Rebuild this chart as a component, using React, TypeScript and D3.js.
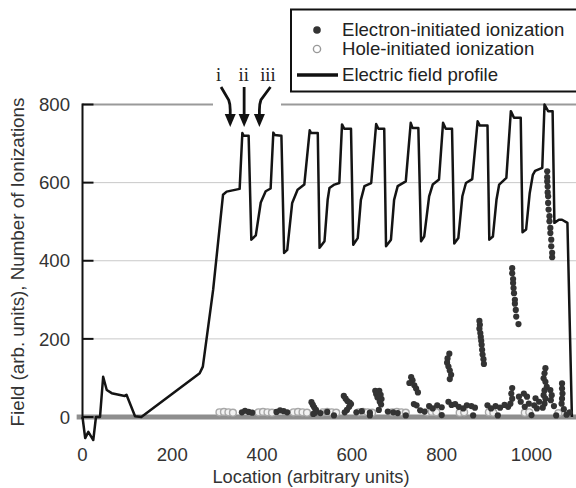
import React from "react";
import * as d3 from "d3";

const WIDTH = 576;
const HEIGHT = 488;

const yTicks = [0, 200, 400, 600, 800];
const xTicks = [0, 200, 400, 600, 800, 1000];

// Electric field profile: [location, field]
const fieldProfile: [number, number][] = [
  [0, 0], [6, -54], [13, -38], [24, -59], [30, 0], [39, 0], [46, 103], [54, 69], [65, 61],
  [94, 54], [98, 57], [117, 2], [131, 0], [261, 112], [268, 129], [291, 326], [313, 569],
  [321, 577], [350, 584],
  [356, 727], [359, 720], [370, 720], [376, 454], [386, 465], [397, 549], [408, 578], [419, 585],
  [425, 728], [428, 722], [443, 720], [449, 420], [456, 428], [467, 548], [479, 582], [494, 595],
  [506, 734], [509, 727], [524, 727], [528, 433], [539, 450], [546, 556], [550, 586], [561, 595], [572, 599],
  [578, 749], [583, 738], [598, 738], [603, 441], [613, 458], [620, 556], [628, 591], [643, 599],
  [654, 750], [659, 738], [672, 738], [676, 437], [687, 454], [694, 556], [702, 591], [720, 603],
  [731, 753], [735, 740], [748, 740], [754, 450], [761, 462], [772, 565], [780, 595], [794, 608],
  [803, 753], [809, 738], [823, 738], [828, 444], [837, 458], [846, 565], [854, 599], [868, 609],
  [880, 757], [885, 746], [902, 746], [906, 454], [914, 462], [922, 556], [928, 595], [944, 612],
  [954, 783], [961, 766], [976, 766], [980, 473], [988, 480], [996, 573], [1003, 620], [1008, 630], [1024, 638],
  [1029, 800], [1037, 783], [1047, 783], [1051, 497], [1061, 505], [1068, 505], [1080, 497], [1090, 0],
];

// Electron-initiated ionization counts: [location, count]
const electronIonizations: [number, number][] = [
  [355, 12], [362, 16], [370, 13], [378, 11], [432, 13], [440, 17], [448, 15], [456, 12],
  [530, 10], [545, 13], [610, 12], [622, 15], [640, 11], [680, 14], [692, 12], [702, 10], [752, 17], [762, 14],
  [510, 38], [513, 31], [516, 25], [520, 18], [518, 11], [514, 8],
  [582, 54], [586, 47], [590, 41], [595, 37], [598, 33], [594, 26], [589, 18], [584, 12],
  [652, 67], [661, 67], [654, 59], [664, 57], [657, 50], [666, 46], [662, 39], [665, 32], [660, 18],
  [732, 102], [735, 94], [728, 87], [739, 81], [743, 73], [747, 63], [738, 33], [744, 30],
  [817, 162], [813, 150], [812, 139], [815, 129], [818, 119], [821, 108], [818, 97], [815, 39], [822, 31],
  [884, 246], [885, 236], [884, 226], [886, 215], [887, 205], [888, 195], [889, 185], [890, 172],
  [891, 160], [893, 148], [894, 136],
  [957, 381], [957, 368], [959, 353], [959, 343], [960, 330], [961, 317], [963, 300], [963, 290],
  [965, 274], [966, 257], [971, 238],
  [1035, 629], [1035, 614], [1035, 603], [1036, 590], [1036, 575], [1037, 565], [1037, 548], [1038, 531],
  [1040, 514], [1040, 501], [1042, 484], [1042, 471], [1044, 454], [1044, 437], [1046, 420], [1046, 409],
  [772, 28], [780, 22], [790, 30], [800, 25], [830, 33], [838, 26], [848, 22], [856, 30], [866, 28],
  [874, 24], [902, 30], [910, 22], [920, 28], [930, 24], [940, 31], [948, 26],
  [1031, 125], [1029, 112], [1027, 99], [1031, 90], [1034, 77], [1029, 68], [1027, 56], [1031, 47],
  [1029, 34], [1025, 24],
  [1068, 86], [1068, 73], [1069, 60], [1068, 47], [1067, 34], [1072, 20],
  [957, 74], [955, 60], [957, 47], [953, 34],
  [983, 60], [990, 52], [972, 52], [976, 39], [994, 34], [985, 26],
  [1009, 48], [1017, 39], [1006, 30], [1012, 22],
  [1042, 69], [1045, 56], [1043, 43], [1050, 28],
  [560, 4], [640, 4], [720, 4], [800, 5], [870, 4], [925, 4], [1000, 5], [1055, 4], [1078, 6], [1085, 12],
];

// Hole-initiated ionization counts: [location, count]
const holeIonizations: [number, number][] = [
  [305, 12], [315, 13], [325, 12], [335, 11], [392, 12], [402, 13], [412, 12], [422, 11],
  [470, 12], [480, 13], [490, 12], [500, 11], [535, 12], [545, 13], [555, 12], [565, 11],
  [615, 12], [625, 13], [635, 12], [645, 11], [690, 12], [700, 13], [710, 12], [720, 11],
  [768, 12], [778, 13], [788, 12], [840, 11], [850, 12], [905, 12], [915, 11], [985, 11],
  [995, 12], [1060, 10],
];

const annotations = [
  { label: "i", labelAt: 303, tipAt: 329 },
  { label: "ii", labelAt: 359, tipAt: 360 },
  { label: "iii", labelAt: 413, tipAt: 394 },
];

const legendItems = [
  { label: "Electron-initiated ionization", kind: "electron" },
  { label: "Hole-initiated ionization", kind: "hole" },
  { label: "Electric field profile", kind: "field" },
];

const SANS = "'Liberation Sans', Arial, sans-serif";
const SERIF = "'Liberation Serif', 'Times New Roman', serif";
const FONT_SIZE = 18.6;

export default function App() {
  const x = d3.scaleLinear().domain([0, 1100]).range([82.5, 576.4]);
  const y = d3.scaleLinear().domain([0, 800]).range([417, 104.5]);
  const line = d3
    .line<[number, number]>()
    .x((d) => x(d[0]))
    .y((d) => y(d[1]));

  const axisX = x(0);
  const top = y(800);

  return (
    <svg width={WIDTH} height={HEIGHT} style={{ display: "block", position: "absolute", left: 0, top: 0 }}>
      <rect width={WIDTH} height={HEIGHT} fill="#fff" />

      {/* horizontal grid */}
      {yTicks
        .filter((t) => t > 0 && t < 800)
        .map((t) => (
          <line key={t} x1={axisX} x2={WIDTH} y1={y(t)} y2={y(t)} stroke="#c9c9c9" strokeWidth={1} />
        ))}
      <line x1={axisX} x2={WIDTH} y1={top} y2={top} stroke="#9a9a9a" strokeWidth={2} />

      {/* zero baseline */}
      <line x1={x(-13)} x2={WIDTH} y1={y(0)} y2={y(0)} stroke="#8e8e8e" strokeWidth={5} />

      {/* hole-initiated ionizations */}
      {holeIonizations.map((d, i) => (
        <circle key={"h" + i} cx={x(d[0])} cy={y(d[1])} r={3.4} fill="#f2f2f2" stroke="#a8a8a8" strokeWidth={1.4} />
      ))}

      {/* electric field */}
      <path d={line(fieldProfile) || ""} fill="none" stroke="#141414" strokeWidth={2.5} strokeLinejoin="round" />

      {/* electron-initiated ionizations */}
      {electronIonizations.map((d, i) => (
        <circle key={"e" + i} cx={x(d[0])} cy={y(d[1])} r={3.1} fill="#333" />
      ))}

      {/* y axis */}
      <line x1={axisX} x2={axisX} y1={top - 1} y2={y(0) + 2} stroke="#111" strokeWidth={2} />
      {yTicks.map((t) => (
        <g key={"yt" + t}>
          <line x1={axisX} x2={axisX + 11} y1={y(t)} y2={y(t)} stroke="#111" strokeWidth={2} />
          <text x={70} y={y(t)} dy="0.36em" textAnchor="end" fontFamily={SANS} fontSize={FONT_SIZE} fill="#333">
            {t}
          </text>
        </g>
      ))}
      {xTicks.map((t) => (
        <text key={"xt" + t} x={x(t)} y={461} textAnchor="middle" fontFamily={SANS} fontSize={FONT_SIZE} fill="#333">
          {t}
        </text>
      ))}
      <text x={311} y={483} textAnchor="middle" fontFamily={SANS} fontSize={18.3} fill="#333">
        Location (arbitrary units)
      </text>
      <text
        transform={`translate(24, 262) rotate(-90)`}
        textAnchor="middle"
        fontFamily={SANS}
        fontSize={18.8}
        fill="#333"
      >
        Field (arb. units), Number of Ionizations
      </text>

      {/* arrows */}
      <rect x={213} y={58} width={68} height={52} fill="#fff" />
      {annotations.map((a) => {
        const lx = x(a.labelAt);
        const tx = x(a.tipAt);
        const dx = tx - lx;
        const sx = Math.abs(dx) < 2 ? tx : lx + 2.5;
        const bx = Math.abs(dx) < 2 ? tx : tx - Math.sign(dx) * 1.5;
        return (
          <g key={a.label}>
            <text x={lx} y={81} textAnchor="middle" fontFamily={SERIF} fontSize={18.5} fill="#222">
              {a.label}
            </text>
            <path
              d={`M${sx},87 L${bx},100 Q${tx},104 ${tx},110 L${tx},116`}
              fill="none"
              stroke="#111"
              strokeWidth={2.8}
            />
            <polygon points={`${tx - 5.5},114 ${tx + 5.5},114 ${tx},127`} fill="#111" />
          </g>
        );
      })}

      {/* legend */}
      <rect x={291} y={9.5} width={300} height={82} fill="#fff" stroke="#111" strokeWidth={2} />
      {legendItems.map((item, i) => {
        const cy = [30, 49, 75][i];
        const ty = [35.5, 55, 81][i];
        return (
          <g key={item.kind}>
            {item.kind === "electron" && <circle cx={317} cy={cy} r={3.8} fill="#333" />}
            {item.kind === "hole" && (
              <circle cx={317} cy={cy} r={3.6} fill="#fff" stroke="#999" strokeWidth={1.4} />
            )}
            {item.kind === "field" && (
              <line x1={297} x2={338} y1={cy} y2={cy} stroke="#111" strokeWidth={3.5} />
            )}
            <text x={342} y={ty} fontFamily={SANS} fontSize={FONT_SIZE} fill="#222">
              {item.label}
            </text>
          </g>
        );
      })}
    </svg>
  );
}
